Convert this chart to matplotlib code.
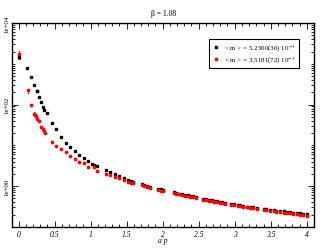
import matplotlib
matplotlib.use("Agg")
import matplotlib.pyplot as plt
from matplotlib.lines import Line2D
from matplotlib.ticker import MultipleLocator, LogLocator, FixedLocator, NullFormatter

# black series: <m> = 5.2560(36) 10^-3
x_black = [0.0, 0.12, 0.176, 0.218, 0.25, 0.26, 0.28, 0.31, 0.333, 0.356, 0.39,
           0.463, 0.514, 0.583, 0.657, 0.713, 0.778, 0.843, 0.907, 0.968, 1.023,
           1.05, 1.093, 1.213, 1.27, 1.338, 1.40, 1.463, 1.523, 1.565, 1.593,
           1.708, 1.74, 1.778, 1.83, 1.94, 1.97, 2.0, 2.157, 2.19, 2.23, 2.27,
           2.31, 2.35, 2.38, 2.42, 2.46, 2.56, 2.60, 2.64, 2.68, 2.71, 2.75, 2.79,
           2.82, 2.86, 2.95, 2.99, 3.04, 3.07, 3.12, 3.17, 3.21, 3.26, 3.31, 3.40,
           3.44, 3.49, 3.54, 3.58, 3.63, 3.68, 3.72, 3.77, 3.81, 3.86, 3.91, 3.95,
           4.0]
y_black = [1445, 776, 470, 307, 218, 215, 152, 116, 89, 74, 61,
           34.7, 25.5, 16.2, 11.5, 9.3, 7.3, 5.7, 4.9, 4.2, 3.4,
           3.3, 3.2, 2.44, 2.17, 1.94, 1.73, 1.55, 1.38, 1.33, 1.30,
           1.12, 1.07, 1.02, 0.96, 0.85, 0.83, 0.80, 0.70, 0.68, 0.66, 0.64,
           0.62, 0.60, 0.58, 0.56, 0.55, 0.49, 0.475, 0.46, 0.45, 0.44, 0.425, 0.415,
           0.405, 0.39, 0.37, 0.36, 0.345, 0.34, 0.33, 0.315, 0.31, 0.30, 0.29, 0.275,
           0.27, 0.26, 0.255, 0.25, 0.245, 0.24, 0.235, 0.23, 0.225, 0.22, 0.215, 0.21,
           0.205]
err_black = [100, 25, 12, 8, 5, 5, 4, 3, 2, 1.5, 1.2,
             0.6, 0.4, 0.3, 0.2, 0.15, 0.12, 0.1, 0.08, 0.06, 0.05,
             0.05, 0.05] + [0.005] * 56

# red series: <m> = 3.5181(72) 10^-3
x_red = [0.0, 0.125, 0.176, 0.213, 0.225, 0.24, 0.25, 0.28, 0.306, 0.333, 0.356,
         0.37, 0.458, 0.519, 0.583, 0.657, 0.72, 0.78, 0.843, 0.907, 0.968, 1.04,
         1.093, 1.213, 1.27, 1.338, 1.40, 1.463, 1.523, 1.565, 1.593,
         1.708, 1.74, 1.778, 1.83, 1.94, 1.97, 2.0, 2.157, 2.19, 2.23, 2.27,
         2.31, 2.35, 2.38, 2.42, 2.46, 2.56, 2.60, 2.64, 2.68, 2.71, 2.75, 2.79,
         2.82, 2.86, 2.95, 2.99, 3.04, 3.07, 3.12, 3.17, 3.21, 3.26, 3.31, 3.40,
         3.44, 3.49, 3.54, 3.58, 3.63, 3.68, 3.72, 3.77, 3.81, 3.86, 3.91, 3.95,
         4.0]
y_red = [1700, 222, 98, 60, 55, 52, 45, 40, 29, 25.5, 22,
         20, 12.4, 9.9, 8.3, 6.8, 5.4, 4.6, 4.0, 3.6, 2.9, 2.9,
         2.35, 2.02, 1.85, 1.68, 1.55, 1.42, 1.28, 1.22, 1.20,
         1.05, 1.00, 0.95, 0.90, 0.80, 0.78, 0.76, 0.67, 0.65, 0.63, 0.61,
         0.59, 0.57, 0.555, 0.535, 0.52, 0.47, 0.455, 0.44, 0.43, 0.42, 0.405, 0.395,
         0.385, 0.37, 0.35, 0.34, 0.33, 0.325, 0.315, 0.30, 0.295, 0.285, 0.275, 0.26,
         0.255, 0.245, 0.24, 0.235, 0.23, 0.225, 0.22, 0.215, 0.21, 0.205, 0.20, 0.195,
         0.19]
err_red = [400, 25, 8, 5, 4, 4, 3, 2.5, 1.5, 1.2, 1.0,
           0.9, 0.4, 0.3, 0.25, 0.2, 0.15, 0.12, 0.1, 0.08, 0.06, 0.06,
           0.05] + [0.008] * 56

label_black = "< m > = 5.2560(36) 10$^{-3}$"
label_red = "< m > = 3.5181(72) 10$^{-3}$"
y_ticks = [1e0, 1e2, 1e4]
y_tick_labels = ["1e+00", "1e+02", "1e+04"]

plt.rcParams["font.family"] = ["Liberation Serif", "DejaVu Serif"]
plt.rcParams["mathtext.fontset"] = "stix"

fig = plt.figure(figsize=(3.27, 2.53), dpi=100)
ax = fig.add_axes([0.038, 0.099, 0.922, 0.806])

ax.errorbar(x_black, y_black, yerr=err_black, fmt="s", color="black",
            markersize=1.7, elinewidth=0.5, capsize=1.0, capthick=0.5)
ax.errorbar(x_red, y_red, yerr=err_red, fmt="o", color="red",
            markersize=1.7, elinewidth=0.5, capsize=1.0, capthick=0.5)

ax.set_yscale("log")
ax.set_xlim(-0.086, 4.1)
ax.set_ylim(0.1, 1e4)

ax.xaxis.set_minor_locator(MultipleLocator(0.1))
ax.set_xticks([0, 0.5, 1, 1.5, 2, 2.5, 3, 3.5, 4])
ax.set_xticklabels(["0", "0.5", "1", "1.5", "2", "2.5", "3", "3.5", "4"],
                   fontstyle="italic", fontsize=5.5)

ax.yaxis.set_major_locator(FixedLocator(y_ticks))
ax.yaxis.set_minor_locator(LogLocator(base=10, subs=range(1, 10), numticks=20))
ax.yaxis.set_minor_formatter(NullFormatter())
ax.set_yticklabels(y_tick_labels, rotation=90, va="center", fontsize=5)

ax.tick_params(which="both", direction="in", top=True, right=True, width=0.6)
ax.tick_params(which="major", length=4, pad=2)
ax.tick_params(which="minor", length=2)
for s in ax.spines.values():
    s.set_linewidth(1.0)

ax.set_title("β = 1.08", fontsize=5.5, pad=6)
ax.set_xlabel("a p", fontstyle="italic", fontsize=5.5, labelpad=-1)

handles = [Line2D([], [], ls="none", marker="s", color="black", markersize=1.7),
           Line2D([], [], ls="none", marker="o", color="red", markersize=1.7)]
leg = ax.legend(handles, [label_black, label_red], loc="upper right",
                bbox_to_anchor=(0.962, 0.938), fontsize=5,
                fancybox=False, edgecolor="black", framealpha=1,
                handlelength=1.0, borderpad=0.45, labelspacing=0.35,
                handletextpad=0.7)
leg.get_frame().set_linewidth(0.8)

fig.savefig("out.png", dpi=100)
